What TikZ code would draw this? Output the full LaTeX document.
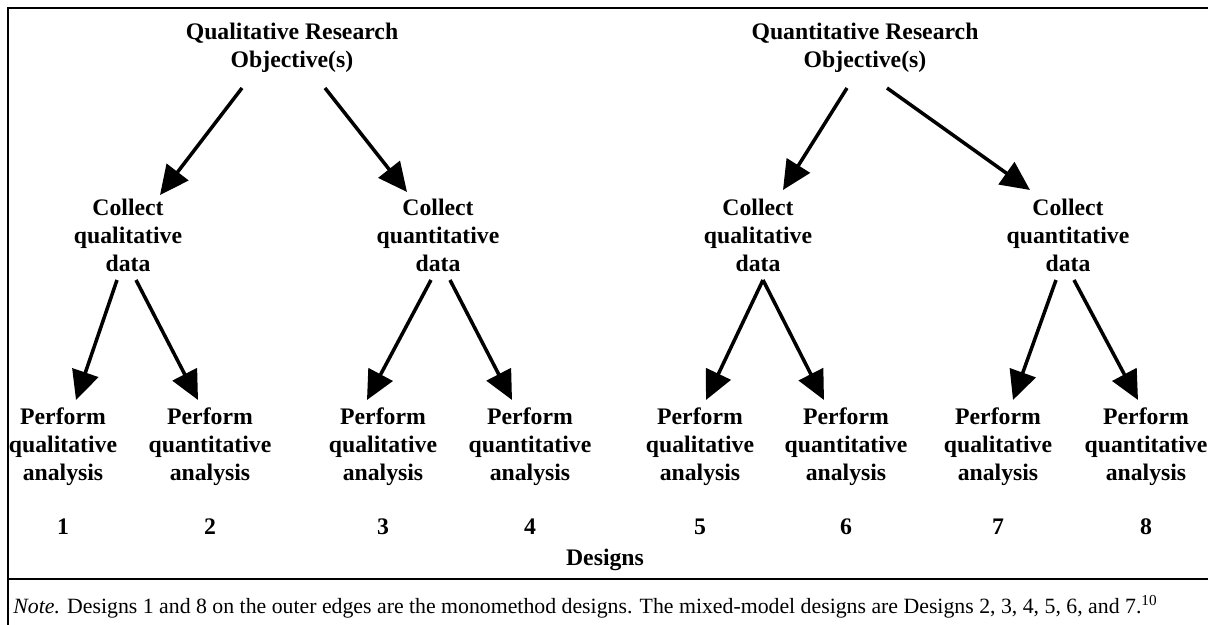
\documentclass[tikz,border=0pt]{standalone}
\usepackage{fontspec}
\setmainfont{Liberation Serif}
\usetikzlibrary{positioning, arrows.meta}

\tikzset{
  lbl/.style={align=center, inner sep=0pt, font=\fontsize{13.5}{16}\selectfont\bfseries},
  arr/.style={line width=2pt, -{Triangle[length=5.8mm, width=5.4mm]}},
  frame/.style={line width=1.5pt}
}

\begin{document}
\begin{tikzpicture}[node distance=1.6cm, on grid]
  \useasboundingbox (0,0) rectangle (24.16,-12.5);

  % objectives
  \node[lbl] (q1) at (5.84,-0.96)  {Qualitative Research\\Objective(s)};
  \node[lbl] (q2) at (17.3,-0.96) {Quantitative Research\\Objective(s)};

  % collect
  \node[lbl] (c1) at (2.56,-4.7)  {Collect\\qualitative\\data};
  \node[lbl] (c2) at (8.76,-4.7)  {Collect\\quantitative\\data};
  \node[lbl] (c3) at (15.16,-4.7) {Collect\\qualitative\\data};
  \node[lbl] (c4) at (21.36,-4.7) {Collect\\quantitative\\data};

  % analysis
  \node[lbl] (p1) at (1.26,-8.94)  {Perform\\qualitative\\analysis};
  \node[lbl] (p2) at (4.2,-8.94)   {Perform\\quantitative\\analysis};
  \node[lbl] (p3) at (7.66,-8.94)  {Perform\\qualitative\\analysis};
  \node[lbl] (p4) at (10.6,-8.94)  {Perform\\quantitative\\analysis};
  \node[lbl] (p5) at (14.0,-8.94)  {Perform\\qualitative\\analysis};
  \node[lbl] (p6) at (16.92,-8.94) {Perform\\quantitative\\analysis};
  \node[lbl] (p7) at (19.96,-8.94) {Perform\\qualitative\\analysis};
  \node[lbl] (p8) at (22.92,-8.94) {Perform\\quantitative\\analysis};

  % design numbers
  \node[lbl] (n1) [below=of p1] {1};
  \node[lbl] (n2) [below=of p2] {2};
  \node[lbl] (n3) [below=of p3] {3};
  \node[lbl] (n4) [below=of p4] {4};
  \node[lbl] (n5) [below=of p5] {5};
  \node[lbl] (n6) [below=of p6] {6};
  \node[lbl] (n7) [below=of p7] {7};
  \node[lbl] (n8) [below=of p8] {8};
  \node[lbl] (designs) at (12.1,-11.2) {Designs};

  \draw[arr] ([shift={(-1.0,-0.8)}]q1.center) -- ([shift={(0.64,0.8)}]c1.center);
  \draw[arr] ([shift={(0.66,-0.8)}]q1.center) -- ([shift={(-0.62,0.86)}]c2.center);
  \draw[arr] ([shift={(-0.36,-0.8)}]q2.center) -- ([shift={(0.5,0.9)}]c3.center);
  \draw[arr] ([shift={(0.44,-0.8)}]q2.center) -- ([shift={(-0.76,0.9)}]c4.center);

  \draw[arr] ([shift={(-0.22,-0.9)}]c1.center) -- ([shift={(0.26,0.94)}]p1.center);
  \draw[arr] ([shift={(0.16,-0.9)}]c1.center) -- ([shift={(-0.24,0.94)}]p2.center);
  \draw[arr] ([shift={(-0.14,-0.9)}]c2.center) -- ([shift={(-0.32,0.94)}]p3.center);
  \draw[arr] ([shift={(0.24,-0.9)}]c2.center) -- ([shift={(-0.36,0.94)}]p4.center);
  \draw[arr] ([shift={(0.1,-0.9)}]c3.center) -- ([shift={(0.12,0.94)}]p5.center);
  \draw[arr] ([shift={(0.1,-0.9)}]c3.center) -- ([shift={(-0.44,0.94)}]p6.center);
  \draw[arr] ([shift={(-0.24,-0.9)}]c4.center) -- ([shift={(0.3,0.94)}]p7.center);
  \draw[arr] ([shift={(0.12,-0.9)}]c4.center) -- ([shift={(-0.16,0.94)}]p8.center);

  % frame and note
  \draw[frame] (0.16,-12.5) -- (0.16,-0.16) -- (24.16,-0.16);
  \draw[frame] (0.16,-11.58) -- (24.16,-11.58);
  \node[anchor=west, inner sep=0pt, font=\fontsize{12.4}{14}\selectfont] (note) at (0.26,-12.14)
    {\textit{Note.} Designs 1 and 8 on the outer edges are the monomethod designs. The mixed-model designs are Designs 2, 3, 4, 5, 6, and 7.\textsuperscript{10}};
\end{tikzpicture}
\end{document}
